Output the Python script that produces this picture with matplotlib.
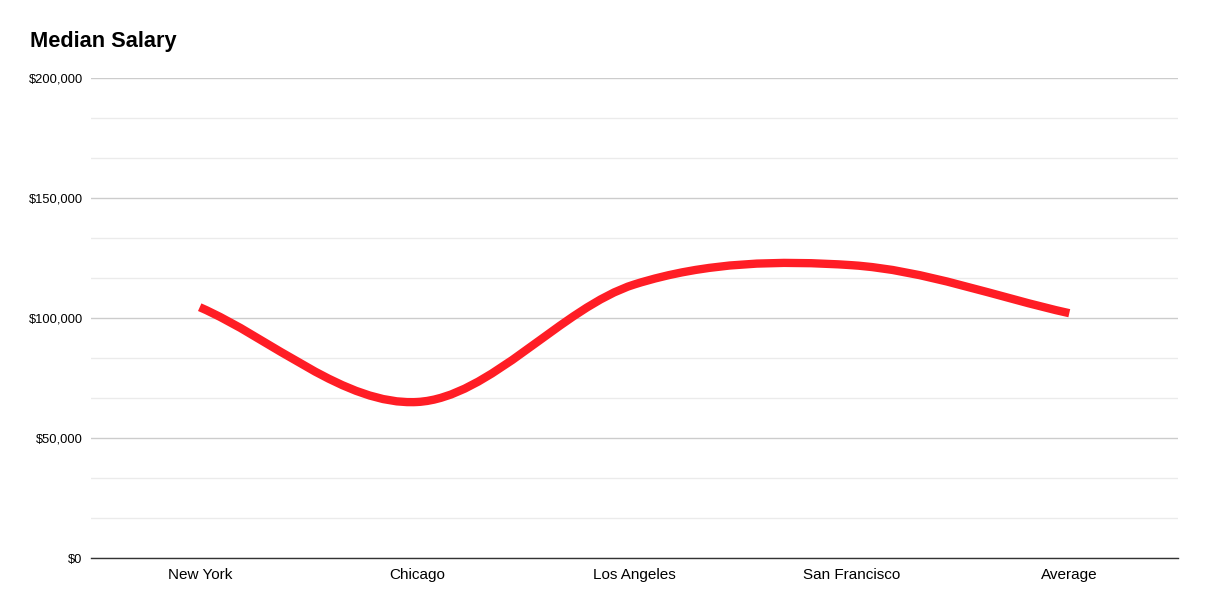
import matplotlib.pyplot as plt
from matplotlib.path import Path
from matplotlib.patches import PathPatch
from matplotlib.ticker import MultipleLocator, StrMethodFormatter

plt.rcParams['font.family'] = ['Liberation Sans', 'DejaVu Sans']

# Data
cities = ['New York', 'Chicago', 'Los Angeles', 'San Francisco', 'Average']
salary = [104500, 65000, 114000, 122000, 102000]

fig = plt.figure(figsize=(12.06, 6.10), dpi=100)
ax = fig.add_axes([91 / 1206, 1 - 558 / 610, 1087 / 1206, 480 / 610])

# Smooth curve (Catmull-Rom style tangents, drawn as cubic beziers)
n = len(salary)
xs = list(range(n))
tang = []
for i in range(n):
    if i == 0:
        tang.append(salary[1] - salary[0])
    elif i == n - 1:
        tang.append(salary[-1] - salary[-2])
    else:
        tang.append((salary[i + 1] - salary[i - 1]) / 2)

verts = [(xs[0], salary[0])]
codes = [Path.MOVETO]
for i in range(n - 1):
    verts += [(xs[i] + 1 / 3, salary[i] + tang[i] / 3),
              (xs[i + 1] - 1 / 3, salary[i + 1] - tang[i + 1] / 3),
              (xs[i + 1], salary[i + 1])]
    codes += [Path.CURVE4] * 3

ax.add_patch(PathPatch(Path(verts, codes), fill=False, edgecolor='#ff1d25',
                       linewidth=6, capstyle='butt', zorder=3))

ax.set_xlim(-0.5, n - 0.5)
ax.set_ylim(0, 200000)
ax.set_xticks(xs)
ax.set_xticklabels(cities, fontsize=11)
ax.yaxis.set_major_locator(MultipleLocator(50000))
ax.yaxis.set_minor_locator(MultipleLocator(50000 / 3))
ax.yaxis.set_major_formatter(StrMethodFormatter('${x:,.0f}'))
ax.tick_params(axis='y', which='both', length=0, pad=6, labelsize=9.3)
ax.tick_params(axis='x', length=0, pad=7)

ax.grid(True, which='major', axis='y', color='#cccccc', linewidth=1)
ax.grid(True, which='minor', axis='y', color='#ebebeb', linewidth=1)
ax.set_axisbelow(True)
for side in ['top', 'right', 'left']:
    ax.spines[side].set_visible(False)
ax.spines['bottom'].set_color('#333333')
ax.spines['bottom'].set_linewidth(1)

fig.text(30 / 1206, 1 - 47 / 610, 'Median Salary', fontsize=15.7,
         fontweight='bold', va='baseline', ha='left')

plt.savefig('out.png', dpi=100)
